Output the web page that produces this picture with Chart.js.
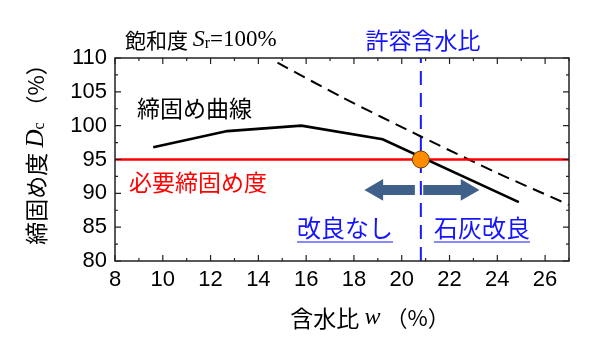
<!DOCTYPE html>
<html lang="ja">
<head>
<meta charset="UTF-8">
<title>締固め度と含水比</title>
<script src="https://cdn.jsdelivr.net/npm/chart.js"></script>
<style>
  html, body { margin: 0; padding: 0; background: #fff; }
  #wrap { width: 602px; height: 344px; }
</style>
</head>
<body>
<div id="wrap"><canvas id="chart" width="602" height="344"></canvas></div>
<script>
// 締固め曲線 (含水比 w, 締固め度 Dc)
const curveW = [9.6, 12.7, 15.8, 19.2, 24.9];
const curveDc = [96.8, 99.2, 100.0, 98.0, 88.7];
// 飽和度 Sr=100% の線
const satW = [14.8, 17.5, 20.8, 24.0, 27.0];
const satDc = [109.3, 104.2, 98.4, 93.0, 88.3];
// 必要締固め度と許容含水比
const requiredDc = 95;
const allowW = 20.8;
// 矢印 (根元, 先端側の三角の中心)
const arrowLeftW = [20.55, 18.96];
const arrowRightW = [20.9, 22.73];
const arrowDc = 90.5;
// 軸
const xTicks = [8, 10, 12, 14, 16, 18, 20, 22, 24, 26];
const yTicks = [80, 85, 90, 95, 100, 105, 110];

const CJK = '"Noto Sans CJK JP", "Noto Sans", sans-serif';
const NUM = '"Liberation Sans Narrow", "Liberation Sans", Arial, sans-serif';
const SERIF = '"Liberation Serif", "DejaVu Serif", serif';

function xy(xs, ys) {
    return xs.map((x, i) => ({ x: x, y: Array.isArray(ys) ? ys[i] : ys }));
}

// 複数フォントの文字列を並べて描く
function drawRuns(ctx, runs, x, y, align) {
    let total = 0;
    runs.forEach(r => { ctx.font = r.font; r.w = ctx.measureText(r.t).width; total += r.w; });
    let cx = align === 'center' ? x - total / 2 : x;
    ctx.textBaseline = 'middle';
    ctx.textAlign = 'left';
    runs.forEach(r => {
        ctx.font = r.font;
        ctx.fillStyle = r.color || '#000';
        ctx.fillText(r.t, cx, y + (r.dy || 0));
        cx += r.w;
    });
    return { left: align === 'center' ? x - total / 2 : x, width: total };
}

const framePlugin = {
    id: 'frame',
    afterDraw(chart) {
        const ctx = chart.ctx;
        const a = chart.chartArea;
        const xs = chart.scales.x, ys = chart.scales.y;
        ctx.save();
        ctx.strokeStyle = '#222';
        ctx.lineWidth = 1.5;
        ctx.strokeRect(a.left, a.top, a.right - a.left, a.bottom - a.top);
        ctx.lineWidth = 1.2;
        ctx.beginPath();
        for (let v = 8; v <= 27; v += 1) {
            const px = xs.getPixelForValue(v);
            const len = v % 2 === 0 ? 6 : 3;
            ctx.moveTo(px, a.bottom); ctx.lineTo(px, a.bottom - len);
            ctx.moveTo(px, a.top); ctx.lineTo(px, a.top + len);
        }
        for (let v = 80; v <= 110; v += 2.5) {
            const py = ys.getPixelForValue(v);
            const len = v % 5 === 0 ? 6 : 3;
            ctx.moveTo(a.left, py); ctx.lineTo(a.left + len, py);
            ctx.moveTo(a.right, py); ctx.lineTo(a.right - len, py);
        }
        ctx.stroke();

        // 注記
        drawRuns(ctx, [
            { t: '飽和度 ', font: '21px ' + CJK },
            { t: 'S', font: 'italic 24px ' + SERIF },
            { t: 'r', font: '16px ' + SERIF, dy: 4 },
            { t: '=100%', font: '23px ' + SERIF }
        ], 125, 40, 'left');
        drawRuns(ctx, [{ t: '許容含水比', font: '23px ' + CJK, color: '#1414ff' }], 423, 40, 'center');
        drawRuns(ctx, [{ t: '締固め曲線', font: '23px ' + CJK }], 137, 108, 'left');
        drawRuns(ctx, [{ t: '必要締固め度', font: '23px ' + CJK, color: '#ff0000' }], 129, 182, 'left');

        ctx.strokeStyle = '#1414ff';
        ctx.lineWidth = 1.2;
        let r = drawRuns(ctx, [{ t: '改良なし', font: '24px ' + CJK, color: '#1414ff' }], 297, 228, 'left');
        ctx.beginPath(); ctx.moveTo(r.left, 242); ctx.lineTo(r.left + r.width, 242); ctx.stroke();
        r = drawRuns(ctx, [{ t: '石灰改良', font: '24px ' + CJK, color: '#1414ff' }], 434, 228, 'left');
        ctx.beginPath(); ctx.moveTo(r.left, 242); ctx.lineTo(r.left + r.width, 242); ctx.stroke();

        // x軸タイトル
        drawRuns(ctx, [
            { t: '含水比 ', font: '23px ' + CJK },
            { t: 'w', font: 'italic 24px ' + SERIF },
            { t: ' （%）', font: '22px ' + CJK }
        ], 370, 318, 'center');

        // y軸タイトル
        ctx.translate(36, 149);
        ctx.rotate(-Math.PI / 2);
        drawRuns(ctx, [
            { t: '締固め度 ', font: '23px ' + CJK },
            { t: 'D', font: 'italic 25px ' + SERIF },
            { t: 'c', font: '16px ' + SERIF, dy: 4 },
            { t: ' （%）', font: '22px ' + CJK }
        ], 0, 0, 'center');
        ctx.restore();
    }
};

const arrowColor = '#3f6189';

new Chart(document.getElementById('chart').getContext('2d'), {
    type: 'line',
    data: {
        datasets: [
            {
                label: '許容含水比点',
                data: xy([allowW], [requiredDc]),
                showLine: false,
                pointRadius: 8.5,
                pointBackgroundColor: '#ff8c00',
                pointBorderColor: '#6b4300',
                pointBorderWidth: 1,
                order: 0
            },
            {
                label: '締固め曲線',
                data: xy(curveW, curveDc),
                borderColor: '#000',
                borderWidth: 2.6,
                pointRadius: 0,
                tension: 0,
                order: 1
            },
            {
                label: '必要締固め度',
                data: xy([8, 27], requiredDc),
                borderColor: '#ff0000',
                borderWidth: 2.5,
                pointRadius: 0,
                order: 2
            },
            {
                label: '飽和度 Sr=100%',
                data: xy(satW, satDc),
                borderColor: '#000',
                borderWidth: 2,
                borderDash: [12, 7],
                pointRadius: 0,
                tension: 0.2,
                order: 3
            },
            {
                label: '許容含水比',
                data: xy([allowW, allowW], [80, 110]),
                borderColor: '#1a1aff',
                borderWidth: 2,
                borderDash: [14, 8],
                pointRadius: 0,
                order: 4
            },
            {
                label: '改良なし',
                data: xy(arrowLeftW, arrowDc),
                borderColor: arrowColor,
                borderWidth: 10,
                borderCapStyle: 'butt',
                pointRadius: [0, 12.5],
                pointStyle: 'triangle',
                rotation: -90,
                pointBackgroundColor: arrowColor,
                pointBorderColor: arrowColor,
                pointBorderWidth: 0,
                order: 5
            },
            {
                label: '石灰改良',
                data: xy(arrowRightW, arrowDc),
                borderColor: arrowColor,
                borderWidth: 10,
                borderCapStyle: 'butt',
                pointRadius: [0, 12.5],
                pointStyle: 'triangle',
                rotation: 90,
                pointBackgroundColor: arrowColor,
                pointBorderColor: arrowColor,
                pointBorderWidth: 0,
                order: 5
            }
        ]
    },
    options: {
        responsive: false,
        animation: false,
        layout: { padding: { left: 0, right: 33, top: 58, bottom: 0 } },
        plugins: { legend: { display: false }, tooltip: { enabled: false } },
        scales: {
            x: {
                type: 'linear',
                min: 8,
                max: 27,
                afterFit: s => { s.height = 83; },
                afterBuildTicks: s => { s.ticks = xTicks.map(v => ({ value: v })); },
                grid: { display: false, drawTicks: false },
                border: { display: false },
                ticks: { padding: 6, color: '#000', font: { family: NUM, size: 22 }, maxRotation: 0 }
            },
            y: {
                type: 'linear',
                min: 80,
                max: 110,
                afterFit: s => { s.width = 115; },
                afterBuildTicks: s => { s.ticks = yTicks.map(v => ({ value: v })); },
                grid: { display: false, drawTicks: false },
                border: { display: false },
                ticks: { padding: 8, color: '#000', font: { family: NUM, size: 22 } }
            }
        }
    },
    plugins: [framePlugin]
});
</script>
</body>
</html>
